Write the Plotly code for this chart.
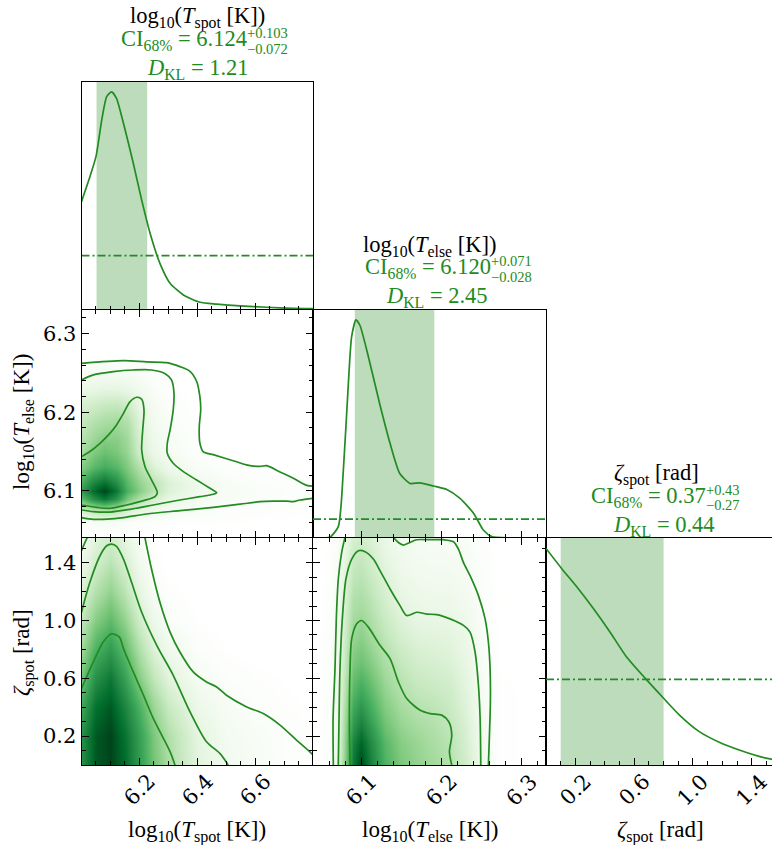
import plotly.graph_objects as go

W, H = 772, 845
GREEN = "rgb(34,139,34)"
BAND = "rgba(34,139,34,0.30)"
SERIF = "Liberation Serif"
TICK_SERIF = "DejaVu Serif"

# ---------------- parameter ranges ----------------
TSPOT_RANGE = [6.0, 6.8]
TELSE_RANGE = [6.04, 6.33]
ZETA_XRANGE = [0.0, 1.5375]
ZETA_YRANGE = [0.0, 1.5708]

# ---------------- 1D marginals (relative density) ----------------
tspot_x = [6.0, 6.029, 6.05, 6.07, 6.087, 6.104, 6.121, 6.145, 6.179, 6.208, 6.237,
           6.271, 6.306, 6.352, 6.409, 6.467, 6.548, 6.64, 6.732, 6.8]
tspot_pdf = [0.474, 0.583, 0.671, 0.832, 0.934, 0.955, 0.926, 0.817, 0.642, 0.481, 0.336,
             0.204, 0.117, 0.066, 0.034, 0.026, 0.018, 0.012, 0.007, 0.006]
tspot_prior = 0.238

telse_x = [6.04, 6.055, 6.061, 6.0715, 6.078, 6.084, 6.088, 6.0935, 6.0985, 6.109, 6.123,
           6.136, 6.148, 6.161, 6.173, 6.19, 6.2065, 6.223, 6.24, 6.252, 6.2625, 6.285, 6.33]
telse_pdf = [0.0, 0.0, 0.003, 0.05, 0.31, 0.677, 0.881, 0.957, 0.932, 0.794, 0.589,
             0.414, 0.283, 0.239, 0.242, 0.228, 0.213, 0.174, 0.108, 0.035, 0.006, 0.0, 0.0]
telse_prior = 0.083

zeta_x = [0.0, 0.106, 0.208, 0.321, 0.434, 0.547, 0.682, 0.80, 0.908, 1.043, 1.179,
          1.314, 1.45, 1.531, 1.571]
zeta_pdf = [0.954, 0.866, 0.786, 0.690, 0.587, 0.477, 0.377, 0.294, 0.220, 0.147, 0.10,
            0.066, 0.038, 0.026, 0.02]
zeta_prior = 0.377

# ---------------- summary statistics ----------------
tspot_ci = (6.124, 0.103, 0.072)
telse_ci = (6.120, 0.071, 0.028)
zeta_ci = (0.37, 0.43, 0.27)
dkl = {"tspot": 1.21, "telse": 2.45, "zeta": 0.44}

# ---------------- 2D densities on coarse grids ----------------
ts_te_x = [6.0, 6.04, 6.08, 6.12, 6.16, 6.2, 6.25, 6.3, 6.4, 6.5, 6.6, 6.7, 6.8]
ts_te_y = [6.04, 6.06, 6.075, 6.09, 6.10, 6.11, 6.13, 6.15, 6.17, 6.19, 6.21, 6.23, 6.25, 6.27, 6.33]
ts_te_z = [
    [0, 0, 0, 0, 0, 0, 0, 0, 0, 0, 0, 0, 0],
    [0.03, 0.04, 0.05, 0.04, 0.03, 0.02, 0.015, 0.01, 0.008, 0.006, 0.005, 0.004, 0.003],
    [0.22, 0.3, 0.35, 0.3, 0.2, 0.13, 0.09, 0.06, 0.035, 0.02, 0.015, 0.01, 0.008],
    [0.55, 0.75, 0.85, 0.72, 0.48, 0.33, 0.2, 0.12, 0.06, 0.035, 0.025, 0.018, 0.012],
    [0.7, 0.9, 1.0, 0.85, 0.6, 0.45, 0.3, 0.17, 0.08, 0.04, 0.03, 0.02, 0.012],
    [0.62, 0.8, 0.88, 0.76, 0.56, 0.42, 0.3, 0.18, 0.08, 0.035, 0.022, 0.014, 0.008],
    [0.45, 0.56, 0.62, 0.57, 0.46, 0.32, 0.17, 0.09, 0.03, 0.012, 0.006, 0.003, 0.002],
    [0.36, 0.46, 0.52, 0.48, 0.4, 0.22, 0.1, 0.05, 0.012, 0.003, 0.001, 0, 0],
    [0.3, 0.38, 0.43, 0.43, 0.37, 0.19, 0.08, 0.04, 0.006, 0, 0, 0, 0],
    [0.25, 0.31, 0.34, 0.36, 0.32, 0.16, 0.065, 0.03, 0.004, 0, 0, 0, 0],
    [0.19, 0.22, 0.25, 0.26, 0.22, 0.12, 0.05, 0.02, 0.002, 0, 0, 0, 0],
    [0.11, 0.12, 0.13, 0.13, 0.11, 0.07, 0.03, 0.01, 0, 0, 0, 0, 0],
    [0.04, 0.045, 0.05, 0.05, 0.045, 0.03, 0.012, 0.004, 0, 0, 0, 0, 0],
    [0.005, 0.005, 0.006, 0.006, 0.005, 0.004, 0.002, 0, 0, 0, 0, 0, 0],
    [0, 0, 0, 0, 0, 0, 0, 0, 0, 0, 0, 0, 0],
]

ts_ze_x = [6.0, 6.05, 6.1, 6.15, 6.2, 6.25, 6.3, 6.4, 6.5, 6.6, 6.7, 6.8]
ts_ze_y = [0, 0.2, 0.4, 0.6, 0.8, 1.0, 1.2, 1.4, 1.571]
ts_ze_z = [
    [0.75, 0.95, 1.0, 0.9, 0.7, 0.5, 0.35, 0.15, 0.07, 0.04, 0.02, 0.01],
    [0.75, 0.95, 1.0, 0.88, 0.68, 0.48, 0.33, 0.14, 0.06, 0.035, 0.02, 0.01],
    [0.65, 0.88, 0.95, 0.8, 0.6, 0.4, 0.25, 0.1, 0.04, 0.02, 0.01, 0.005],
    [0.5, 0.75, 0.85, 0.68, 0.45, 0.28, 0.15, 0.05, 0.02, 0.01, 0.005, 0],
    [0.38, 0.6, 0.7, 0.55, 0.33, 0.17, 0.08, 0.02, 0.005, 0, 0, 0],
    [0.27, 0.45, 0.55, 0.42, 0.22, 0.09, 0.03, 0.005, 0, 0, 0, 0],
    [0.18, 0.32, 0.42, 0.3, 0.13, 0.04, 0.01, 0, 0, 0, 0, 0],
    [0.1, 0.22, 0.3, 0.2, 0.07, 0.015, 0, 0, 0, 0, 0, 0],
    [0.05, 0.15, 0.22, 0.14, 0.04, 0.005, 0, 0, 0, 0, 0, 0],
]

te_ze_x = [6.04, 6.06, 6.07, 6.08, 6.09, 6.1, 6.11, 6.13, 6.15, 6.17, 6.19, 6.21, 6.23, 6.25, 6.27, 6.33]
te_ze_y = [0, 0.15, 0.3, 0.5, 0.7, 0.9, 1.1, 1.3, 1.45, 1.571]
te_ze_z = [
    [0, 0.02, 0.1, 0.45, 0.85, 1.0, 0.85, 0.6, 0.48, 0.42, 0.37, 0.32, 0.22, 0.08, 0.01, 0],
    [0, 0.02, 0.1, 0.42, 0.8, 0.92, 0.8, 0.57, 0.45, 0.4, 0.35, 0.3, 0.2, 0.07, 0.01, 0],
    [0, 0.02, 0.09, 0.38, 0.7, 0.8, 0.7, 0.5, 0.4, 0.35, 0.32, 0.27, 0.18, 0.06, 0.01, 0],
    [0, 0.02, 0.08, 0.32, 0.58, 0.65, 0.58, 0.42, 0.33, 0.28, 0.26, 0.23, 0.15, 0.05, 0.01, 0],
    [0, 0.02, 0.07, 0.27, 0.48, 0.52, 0.47, 0.35, 0.27, 0.22, 0.2, 0.18, 0.12, 0.04, 0.005, 0],
    [0, 0.015, 0.06, 0.23, 0.4, 0.43, 0.38, 0.28, 0.2, 0.16, 0.15, 0.14, 0.1, 0.03, 0.005, 0],
    [0, 0.012, 0.05, 0.2, 0.34, 0.36, 0.32, 0.22, 0.14, 0.11, 0.1, 0.1, 0.07, 0.025, 0.003, 0],
    [0, 0.01, 0.04, 0.16, 0.28, 0.3, 0.26, 0.17, 0.1, 0.08, 0.07, 0.07, 0.05, 0.02, 0.002, 0],
    [0, 0.008, 0.035, 0.13, 0.24, 0.26, 0.22, 0.13, 0.08, 0.06, 0.05, 0.05, 0.04, 0.015, 0.002, 0],
    [0, 0.006, 0.03, 0.11, 0.2, 0.22, 0.19, 0.11, 0.07, 0.05, 0.04, 0.04, 0.03, 0.01, 0.001, 0],
]

# ---------------- credible-region contours (x list, y list) ----------------
ts_te_contours = [
    ([6.0, 6.029, 6.064, 6.098, 6.121, 6.145, 6.168, 6.191, 6.208, 6.216, 6.2115, 6.208,
      6.2195, 6.242, 6.262, 6.254, 6.214, 6.156, 6.098, 6.052, 6.0],
     [6.1435, 6.15, 6.1605, 6.1731, 6.1838, 6.1986, 6.2135, 6.219, 6.2164, 6.2029, 6.1774, 6.152,
      6.1307, 6.1138, 6.0977, 6.0926, 6.0875, 6.082, 6.0777, 6.079, 6.082]),
    ([6.0, 6.041, 6.11, 6.179, 6.242, 6.289, 6.311, 6.3195, 6.317, 6.306, 6.2965, 6.2965,
      6.317, 6.352, 6.398, 6.444, 6.467, 6.455, 6.409, 6.34, 6.248, 6.168, 6.098, 6.041, 6.0],
     [6.241, 6.2474, 6.2516, 6.2537, 6.2537, 6.249, 6.241, 6.2249, 6.2029, 6.1774, 6.1605, 6.1477,
      6.135, 6.1244, 6.1138, 6.1032, 6.0977, 6.0956, 6.0926, 6.0883, 6.082, 6.0765, 6.073, 6.0735, 6.0756]),
    ([6.0, 6.145, 6.225, 6.294, 6.34, 6.375, 6.398, 6.409, 6.412, 6.407, 6.409, 6.42, 6.455,
      6.536, 6.57, 6.617, 6.64, 6.686, 6.732, 6.778, 6.8],
     [6.262, 6.2655, 6.264, 6.263, 6.258, 6.252, 6.239, 6.22, 6.203, 6.182, 6.161, 6.15, 6.146,
      6.137, 6.133, 6.131, 6.132, 6.124, 6.116, 6.107, 6.106]),
    ([6.8, 6.755, 6.732, 6.709, 6.663, 6.617, 6.548, 6.455, 6.34, 6.225, 6.145, 6.09, 6.041, 6.0],
     [6.0905, 6.0883, 6.0862, 6.0868, 6.0868, 6.0862, 6.083, 6.079, 6.0748, 6.0705, 6.066,
      6.064, 6.0638, 6.066]),
]

ts_ze_contours = [
    ([6.0, 6.041, 6.075, 6.104, 6.131, 6.145, 6.179, 6.214, 6.248, 6.283, 6.306, 6.323],
     [0.529, 0.713, 0.851, 0.908, 0.885, 0.805, 0.644, 0.483, 0.322, 0.184, 0.092, 0.0]),
    ([6.0, 6.029, 6.064, 6.087, 6.104, 6.121, 6.145, 6.173, 6.208, 6.260, 6.317, 6.375,
      6.432, 6.478, 6.507],
     [1.057, 1.264, 1.448, 1.517, 1.529, 1.513, 1.425, 1.264, 1.057, 0.828, 0.621, 0.368,
      0.161, 0.080, 0.0]),
    ([6.219, 6.242, 6.271, 6.306, 6.340, 6.386, 6.432, 6.467, 6.501, 6.571, 6.628, 6.686,
      6.743, 6.80, 6.824],
     [1.575, 1.356, 1.126, 0.920, 0.782, 0.644, 0.575, 0.540, 0.483, 0.402, 0.356, 0.276,
      0.172, 0.069, 0.0]),
    ([6.0, 6.012, 6.020], [1.483, 1.54, 1.575]),
]

te_ze_contours = [
    ([6.0861, 6.0853, 6.0861, 6.0882, 6.0944, 6.1006, 6.1089, 6.1234, 6.1359, 6.1463, 6.1566,
      6.1733, 6.1857, 6.2002, 6.209, 6.2127, 6.2098, 6.2127],
     [0.0, 0.322, 0.667, 0.874, 0.977, 1.0, 0.954, 0.828, 0.736, 0.575, 0.460,
      0.379, 0.356, 0.345, 0.299, 0.207, 0.092, 0.0]),
    ([6.0715, 6.0724, 6.0736, 6.0765, 6.081, 6.0882, 6.0965, 6.1048, 6.1151, 6.1234, 6.1359,
      6.1483, 6.1566, 6.1691, 6.1816, 6.194, 6.2106, 6.2272, 6.2355, 6.2417, 6.2459, 6.248, 6.2488],
     [0.0, 0.322, 0.667, 1.011, 1.287, 1.425, 1.483, 1.476, 1.425, 1.345, 1.218,
      1.103, 1.034, 1.057, 1.044, 1.041, 1.011, 0.966, 0.920, 0.782, 0.552, 0.322, 0.0]),
    ([6.0653, 6.065, 6.0674, 6.069, 6.0715, 6.0757, 6.0798],
     [0.0, 0.322, 0.667, 1.011, 1.287, 1.471, 1.575]),
    ([6.14, 6.1463, 6.1525, 6.1608, 6.1691, 6.1857, 6.2023, 6.2148, 6.221, 6.2272, 6.2355,
      6.2459, 6.2542, 6.2583, 6.2604, 6.2608, 6.2596, 6.2583],
     [1.575, 1.540, 1.522, 1.540, 1.559, 1.559, 1.559, 1.545, 1.494, 1.402, 1.310,
      1.172, 1.011, 0.851, 0.667, 0.437, 0.207, 0.0]),
]

# ---------------- tick positions ----------------
tspot_ticks = [6.2, 6.4, 6.6]
telse_ticks = [6.1, 6.2, 6.3]
zeta_ticks = [0.2, 0.6, 1.0, 1.4]

# ---------------- figure geometry (pixels) ----------------
COL_EDGES = [81.5, 313, 546, 772]
ROW_EDGES = [81.5, 310, 538, 765]


def xdom(c):
    return [COL_EDGES[c] / W, COL_EDGES[c + 1] / W]


def ydom(r):
    return [1 - ROW_EDGES[r + 1] / H, 1 - ROW_EDGES[r] / H]


def px(x):
    return x / W


def py(y):
    return 1 - y / H


GREENS = [[0.0, "#ffffff"], [0.04, "#f7fcf5"], [0.14, "#e5f5e0"], [0.26, "#c7e9c0"],
          [0.38, "#a1d99b"], [0.5, "#74c476"], [0.63, "#41ab5d"], [0.77, "#238b45"],
          [0.9, "#006d2c"], [1.0, "#00441b"]]

fig = go.Figure()

# 2D density shading
for (gx, gy, gz, ax) in [(ts_te_x, ts_te_y, ts_te_z, "2"),
                         (ts_ze_x, ts_ze_y, ts_ze_z, "4"),
                         (te_ze_x, te_ze_y, te_ze_z, "5")]:
    fig.add_trace(go.Heatmap(x=gx, y=gy, z=gz, xaxis="x" + ax, yaxis="y" + ax,
                             zsmooth="best", colorscale=GREENS, zmin=0, zmax=1,
                             showscale=False, hoverinfo="skip"))

# contour lines
for contours, ax in [(ts_te_contours, "2"), (ts_ze_contours, "4"), (te_ze_contours, "5")]:
    for cx, cy in contours:
        fig.add_trace(go.Scatter(x=cx, y=cy, mode="lines", xaxis="x" + ax, yaxis="y" + ax,
                                 line=dict(color=GREEN, width=1.7, shape="spline", smoothing=0.8),
                                 hoverinfo="skip", showlegend=False))

# 1D marginals and prior levels
for mx, my, prior, rng, ax in [(tspot_x, tspot_pdf, tspot_prior, TSPOT_RANGE, ""),
                                (telse_x, telse_pdf, telse_prior, TELSE_RANGE, "3"),
                                (zeta_x, zeta_pdf, zeta_prior, [0.0, 1.5708], "6")]:
    fig.add_trace(go.Scatter(x=mx, y=my, mode="lines", xaxis="x" + ax, yaxis="y" + ax,
                             line=dict(color=GREEN, width=1.7, shape="spline", smoothing=0.6),
                             hoverinfo="skip", showlegend=False))
    fig.add_trace(go.Scatter(x=rng, y=[prior, prior], mode="lines", xaxis="x" + ax, yaxis="y" + ax,
                             line=dict(color=GREEN, width=1.6, dash="8px,3px,2px,3px"),
                             hoverinfo="skip", showlegend=False))

# credible-interval bands
shapes = []
for (med, up, lo), ax in [(tspot_ci, ""), (telse_ci, "3"), (zeta_ci, "6")]:
    shapes.append(dict(type="rect", xref="x" + ax, yref="y" + ax + " domain",
                       x0=med - lo, x1=med + up, y0=0, y1=1,
                       fillcolor=BAND, line=dict(width=0), layer="below"))

tickfont = dict(family=TICK_SERIF, size=21, color="black")


def make_x(col, row, rng, anchor, tickvals, minor_dtick, minor_tick0, diag=False):
    return dict(domain=xdom(col), range=rng, anchor=anchor, showgrid=False, zeroline=False,
                showline=True, linecolor="black", linewidth=1,
                mirror=True if diag else "allticks",
                ticks="inside", ticklen=7, tickwidth=1, tickcolor="black",
                tickmode="array", tickvals=tickvals, showticklabels=False,
                minor=dict(ticks="inside", ticklen=4, tickwidth=1, tickcolor="black",
                           dtick=minor_dtick, tick0=minor_tick0, showgrid=False))


def make_y(col, row, rng, anchor, tickvals=None, minor_dtick=None, minor_tick0=None,
           diag=False, labels=False, mirror=True):
    d = dict(domain=ydom(row), range=rng, anchor=anchor, showgrid=False, zeroline=False,
             showline=True, linecolor="black", linewidth=1)
    if diag:
        d.update(mirror=mirror, ticks="", showticklabels=False)
    else:
        d.update(mirror="allticks", ticks="inside", ticklen=7, tickwidth=1, tickcolor="black",
                 tickmode="array", tickvals=tickvals,
                 ticktext=["%.1f" % v for v in tickvals],
                 showticklabels=labels, tickfont=tickfont,
                 minor=dict(ticks="inside", ticklen=4, tickwidth=1, tickcolor="black",
                            dtick=minor_dtick, tick0=minor_tick0, showgrid=False))
    return d


layout = dict(
    width=W, height=H, margin=dict(l=0, r=0, t=0, b=0),
    paper_bgcolor="white", plot_bgcolor="white", showlegend=False,
    xaxis=make_x(0, 0, TSPOT_RANGE, "y", tspot_ticks, 0.05, 6.0, diag=True),
    yaxis=make_y(0, 0, [0, 1], "x", diag=True),
    xaxis2=make_x(0, 1, TSPOT_RANGE, "y2", tspot_ticks, 0.05, 6.0),
    yaxis2=make_y(0, 1, TELSE_RANGE, "x2", telse_ticks, 0.02, 6.0, labels=True),
    xaxis3=make_x(1, 1, TELSE_RANGE, "y3", telse_ticks, 0.02, 6.0, diag=True),
    yaxis3=make_y(1, 1, [0, 1], "x3", diag=True),
    xaxis4=make_x(0, 2, TSPOT_RANGE, "y4", tspot_ticks, 0.05, 6.0),
    yaxis4=make_y(0, 2, ZETA_YRANGE, "x4", zeta_ticks, 0.1, 0.0, labels=True),
    xaxis5=make_x(1, 2, TELSE_RANGE, "y5", telse_ticks, 0.02, 6.0),
    yaxis5=make_y(1, 2, ZETA_YRANGE, "x5", zeta_ticks, 0.1, 0.0),
    xaxis6=make_x(2, 2, ZETA_XRANGE, "y6", zeta_ticks, 0.1, 0.0, diag=True),
    yaxis6=make_y(2, 2, [0, 1], "x6", diag=True, mirror=False),
    shapes=shapes,
)
fig.update_layout(**layout)

# ---------------- text ----------------
ann = []
black = dict(family=SERIF, size=22.5, color="black")
label_font = dict(family=SERIF, size=23, color="black")
green = dict(family=SERIF, size=22.5, color=GREEN)
small_green = dict(family=SERIF, size=14.5, color=GREEN)


def add(text, x, y, font, xanchor="center", yanchor="middle", angle=0):
    ann.append(dict(text=text, x=px(x), y=py(y), xref="paper", yref="paper",
                    showarrow=False, font=font, xanchor=xanchor, yanchor=yanchor,
                    textangle=angle, borderpad=0))


lab_tspot = "log<sub>10</sub>(<i>T</i><sub>spot</sub> [K])"
lab_telse = "log<sub>10</sub>(<i>T</i><sub>else</sub> [K])"
lab_zeta = "<i>ζ</i><sub>spot</sub> [rad]"

titles = [
    (lab_tspot, "6.124", "+0.103", "−0.072", dkl["tspot"], 197.5, 248, 197.5, 0),
    (lab_telse, "6.120", "+0.071", "−0.028", dkl["telse"], 429, 491.5, 436.5, 228),
    (lab_zeta, "0.37", "+0.43", "−0.27", dkl["zeta"], 656.5, 707, 664, 456.5),
]
for lab, med, up, lo, d, xc, xci, xd, dy in titles:
    add(lab, xc, 18 + dy, black)
    add("CI<sub>68%</sub> = " + med, xci, 40 + dy, green, xanchor="right")
    add(up, xci - 2, 33 + dy, small_green, xanchor="left")
    add(lo, xci - 2, 48.5 + dy, small_green, xanchor="left")
    add("<i>D</i><sub>KL</sub> = %.2f" % d, xd, 69 + dy, green)

# slanted tick labels along the bottom row, centred on their ticks
for ticks, ax in [(tspot_ticks, "x4"), (telse_ticks, "x5"), (zeta_ticks, "x6")]:
    for v in ticks:
        ann.append(dict(text="%.1f" % v, x=v, y=py(790), xref=ax, yref="paper",
                        showarrow=False, font=tickfont, xanchor="center", yanchor="middle",
                        textangle=-45, borderpad=0))

# axis titles
add(lab_tspot, 197, 831, label_font)
add(lab_telse, 430, 831, label_font)
add(lab_zeta, 660, 831, label_font)
add(lab_telse, 23, 422, label_font, angle=-90)
add(lab_zeta, 23, 653, label_font, angle=-90)

fig.update_layout(annotations=ann)
fig.write_html("out.html")
